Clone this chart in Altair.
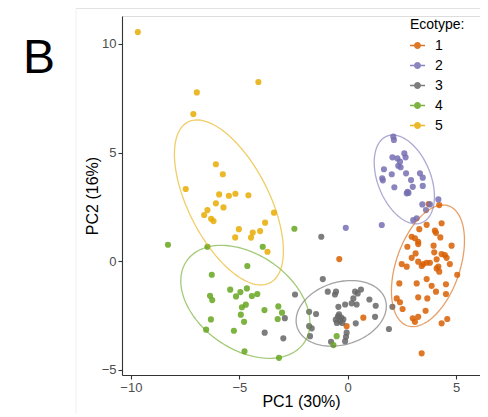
import numpy as np
import pandas as pd
import altair as alt

ecotypes = ["1", "2", "3", "4", "5"]
colors = ["#D95F02", "#7570B3", "#666666", "#66A61E", "#E6AB02"]

x1 = [3.73, 4.22, 3.64, 4.33, 3.30, 4.02, 4.07, 4.27, 2.95, 3.10, 3.25, 3.25, 2.75, 3.96, 4.79,
      3.13, 3.99, 4.33, 4.48, 4.56, 2.95, 4.10, 3.25, 3.48, 3.64, 3.79, 3.41, 2.49, 2.72, 4.18,
      4.10, 4.22, 4.71, 5.05, 3.64, 2.38, 3.18, 3.87, 4.53, 4.07, 4.53, 3.25, 3.67, 2.26, 2.41,
      2.53, 3.59, 3.25, 3.00, 3.10, 4.59, 4.33, 3.41, -0.39, 0.72, -0.05]
y1 = [2.63, 2.58, 1.67, 1.74, 1.47, 1.40, 1.30, 1.09, 1.12, 1.05, 0.89, 0.78, 0.66, 0.71, 0.71,
      0.35, 0.40, 0.32, 0.28, 0.15, 0.15, 0.08, -0.03, -0.14, -0.08, -0.08, -0.23, -0.14, -0.26, -0.26,
      -0.34, -0.49, -0.14, -0.63, -0.83, -1.03, -1.03, -1.14, -1.07, -1.41, -1.52, -1.67, -1.72, -1.72, -1.90,
      -2.21, -2.29, -2.57, -2.64, -2.80, -2.67, -2.87, -4.25, 0.09, -2.61, -3.00]

x2 = [2.10, 2.13, 2.06, 2.29, 2.61, 2.67, 2.41, 2.33, 2.44, 1.67, 2.03, 2.69, 3.33, 3.46, 1.59,
      1.62, 2.92, 2.15, 3.00, 3.46, 2.76, 2.72, 2.80, 3.44, 3.61, 3.79, 3.18, 3.02, 1.57, -0.09, 4.18]
y2 = [5.73, 5.58, 4.78, 4.73, 4.96, 4.78, 4.58, 4.39, 4.32, 4.23, 4.00, 4.04, 4.04, 3.84, 3.81,
      3.72, 3.73, 3.40, 3.42, 3.46, 3.19, 3.12, 3.14, 2.61, 2.35, 2.61, 1.97, 1.89, 1.66, 1.53, 2.84]

x3 = [-1.15, -2.43, -0.92, -0.59, -0.54, 0.34, 0.61, 0.46, 0.26, 1.00, -0.43, -0.12, 0.18, 0.41, 1.29,
      2.06, -1.78, -1.46, 1.26, -0.45, -0.30, -0.55, -0.35, -0.20, -0.50, -0.40, -0.25, 0.37, -1.78, -1.66,
      1.90, -0.05, -0.08, -0.12, -0.77, -1.74, -3.83, -2.97, -2.90, -1.22]
y3 = [-0.83, -1.54, -1.41, -1.54, -1.41, -1.41, -1.31, -1.49, -1.72, -1.77, -2.11, -2.00, -1.95, -2.00, -2.06,
      -2.11, -2.34, -2.44, -2.57, -2.55, -2.60, -2.70, -2.78, -2.68, -2.85, -2.45, -2.85, -2.87, -3.00, -3.10,
      -3.13, -3.30, -3.49, -3.69, -3.72, -3.46, -3.30, -3.56, -2.63, 1.12]

x4 = [-8.29, -6.47, -3.92, -4.63, -6.27, -5.42, -4.95, -4.65, -5.15, -4.42, -4.17, -6.35, -6.25, -4.70, -4.88,
      -3.84, -3.20, -3.03, -4.93, -3.23, -6.31, -4.78, -6.53, -5.25, -4.76, -3.17, -2.46, -0.51, -0.66]
y4 = [0.75, 0.66, 0.66, -0.23, -0.63, -1.32, -1.43, -1.26, -1.63, -1.61, -1.52, -1.60, -1.80, -2.01, -2.13,
      -2.26, -2.09, -2.38, -2.47, -2.67, -2.69, -2.80, -3.16, -3.21, -4.16, -4.46, 1.49, -3.46, -3.87]

x5 = [-9.68, -6.96, -4.12, -7.12, -6.08, -5.76, -7.47, -5.93, -5.48, -5.18, -4.58, -6.08, -5.73, -6.47, -6.62,
      -6.30, -6.19, -3.40, -3.81, -5.02, -4.04, -4.38, -5.19, -4.46, -3.70]
y5 = [10.55, 7.77, 8.25, 6.77, 4.46, 4.00, 3.32, 3.07, 3.01, 3.10, 3.03, 2.66, 2.47, 2.35, 2.12,
      1.95, 1.84, 2.23, 1.77, 1.47, 1.38, 1.31, 1.09, 1.08, 0.43]

# ellipse outlines (centre, semi-axes, rotation in degrees)
ell_cx = [3.70, 2.61, -0.30, -4.72, -5.48]
ell_cy = [-0.22, 3.76, -2.41, -1.88, 2.70]
ell_a = [2.92, 2.15, 2.13, 3.30, 4.16]
ell_b = [1.47, 1.22, 1.44, 2.18, 1.86]
ell_angle = [71, -68, 17, -35, -63]

x_ticks = [-10, -5, 0, 5]
y_ticks = [-5, 0, 5, 10]

rows = []
for e, xs, ys in zip(ecotypes, [x1, x2, x3, x4, x5], [y1, y2, y3, y4, y5]):
    for x, y in zip(xs, ys):
        rows.append({"Ecotype": e, "PC1": x, "PC2": y})
pts = pd.DataFrame(rows)

t = np.linspace(0, 2 * np.pi, 145)
erows = []
for e, cx, cy, a, b, ang in zip(ecotypes, ell_cx, ell_cy, ell_a, ell_b, ell_angle):
    th = np.deg2rad(ang)
    ex = cx + a * np.cos(t) * np.cos(th) - b * np.sin(t) * np.sin(th)
    ey = cy + a * np.cos(t) * np.sin(th) + b * np.sin(t) * np.cos(th)
    for i, (u, v) in enumerate(zip(ex, ey)):
        erows.append({"Ecotype": e, "PC1": float(u), "PC2": float(v), "i": i})
ell = pd.DataFrame(erows)

FONT = "Liberation Sans"
cscale = alt.Scale(domain=ecotypes, range=colors)
xscale = alt.Scale(domain=[-10.41, 6.10], nice=False, zero=False)
yscale = alt.Scale(domain=[-5.25, 11.29], nice=False, zero=False)

axis_common = dict(grid=False, domainColor="#333333", domainWidth=1.1, tickColor="#333333",
                   tickWidth=1.1, tickSize=4, labelColor="#4D4D4D", labelFontSize=13,
                   labelPadding=2, labelFont=FONT, titleFont=FONT, titleFontSize=16,
                   titleFontWeight="normal", titleColor="#000000")

xaxis = alt.Axis(values=x_ticks, title="PC1 (30%)", titleY=31, titleBaseline="alphabetic", **axis_common)
yaxis = alt.Axis(values=y_ticks, title="PC2 (16%)", titleX=-25, titleY=179.5,
                 titleBaseline="alphabetic", titleAlign="center", titleAngle=-90, **axis_common)

legend = alt.Legend(
    title="Ecotype:", orient="none", legendX=288, legendY=2,
    titleFont=FONT, titleFontSize=14, titleFontWeight="normal", titleColor="#000000",
    labelFont=FONT, labelFontSize=14, labelColor="#000000",
    symbolType="M-1,-0.1L1,-0.1L1,0.1L-1,0.1Z M0.47,0A0.47,0.47,0,1,1,-0.47,0A0.47,0.47,0,1,1,0.47,0Z",
    symbolSize=225, symbolStrokeWidth=0, titlePadding=6, rowPadding=5, labelOffset=10,
)

points = alt.Chart(pts).mark_circle(size=38, opacity=0.85).encode(
    x=alt.X("PC1:Q", scale=xscale, axis=xaxis),
    y=alt.Y("PC2:Q", scale=yscale, axis=yaxis),
    color=alt.Color("Ecotype:N", scale=cscale, legend=legend),
)

ellipses = alt.Chart(ell).mark_line(strokeWidth=1.3, opacity=0.6).encode(
    x=alt.X("PC1:Q", scale=xscale),
    y=alt.Y("PC2:Q", scale=yscale),
    color=alt.Color("Ecotype:N", scale=cscale, legend=None),
    detail="Ecotype:N",
    order="i:Q",
)

panel = alt.Chart(pd.DataFrame({"label": ["B"]})).mark_text(
    fontSize=48, font=FONT, align="left", baseline="alphabetic", color="#000000"
).encode(x=alt.value(-99), y=alt.value(57), text="label:N")

top_line = alt.Chart(pd.DataFrame({"k": [0]})).mark_rule(color="#E2E2E2", strokeWidth=1).encode(
    x=alt.value(-46), x2=alt.value(366), y=alt.value(-7.5))
left_line = alt.Chart(pd.DataFrame({"k": [0]})).mark_rule(color="#F0F0F0", strokeWidth=1).encode(
    x=alt.value(-46), y=alt.value(-7.5), y2=alt.value(401))

chart = alt.layer(top_line, left_line, points, ellipses, panel).resolve_legend(
    color="independent"
).properties(
    width=358, height=359,
    autosize=alt.AutoSizeParams(type="none"),
    padding={"left": 114, "top": 8, "right": 0, "bottom": 39},
).configure_view(stroke=None).configure(font=FONT)

chart.save("out.html", embed_options={"renderer": "svg", "actions": False})
